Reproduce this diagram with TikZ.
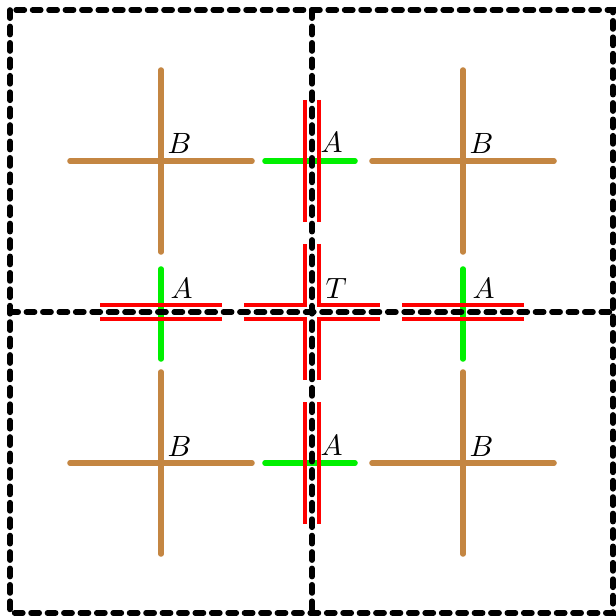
\documentclass[tikz,border=0pt]{standalone}
\begin{document}
\begin{tikzpicture}[x=0.341pt,y=-0.341pt,
  brownline/.style={draw={rgb,255:red,196;green,134;blue,66},line width=1.9pt,line cap=round},
  greenline/.style={draw={rgb,255:red,0;green,240;blue,0},line width=1.9pt,line cap=round},
  redline/.style={draw=red,line width=1.3pt},
  gridline/.style={draw=black,line width=1.9pt,line cap=round,dash pattern=on 2.8pt off 2.8pt},
  lbl/.style={anchor=base west,inner sep=0pt}]
\useasboundingbox (0,0) rectangle (616,616);
% B crosses
\foreach \cx/\cy in {161/161,463/161,161/463,463/463}{
  \draw[brownline] (\cx-91,\cy) -- (\cx+91,\cy);
  \draw[brownline] (\cx,\cy-91) -- (\cx,\cy+91);
  \node[lbl] at (\cx+6,\cy-7) {$B$};
}
% A crosses on vertical edges (green horizontal, red vertical pair)
\foreach \cy in {161,463}{
  \draw[greenline] (312-47,\cy) -- (312+43,\cy);
  \draw[redline] (305,\cy-61) -- (305,\cy+61);
  \draw[redline] (319,\cy-61) -- (319,\cy+61);
  \node[lbl] at (320,\cy-8) {$A$};
}
% A crosses on horizontal edge (green vertical, red horizontal pair)
\foreach \cx in {161,463}{
  \draw[greenline] (\cx,312-43) -- (\cx,312+47);
  \draw[redline] (\cx-61,305) -- (\cx+61,305);
  \draw[redline] (\cx-61,319) -- (\cx+61,319);
  \node[lbl] at (\cx+9,298) {$A$};
}
% T cross
\draw[redline] (244,305) -- (305,305) -- (305,244);
\draw[redline] (319,244) -- (319,305) -- (380,305);
\draw[redline] (244,319) -- (305,319) -- (305,380);
\draw[redline] (319,380) -- (319,319) -- (380,319);
\node[lbl] at (325,298) {$T$};
% dashed grid
\draw[gridline] (10,10) rectangle (613,613);
\draw[gridline] (312,10) -- (312,613);
\draw[gridline] (10,312) -- (613,312);
\end{tikzpicture}
\end{document}
